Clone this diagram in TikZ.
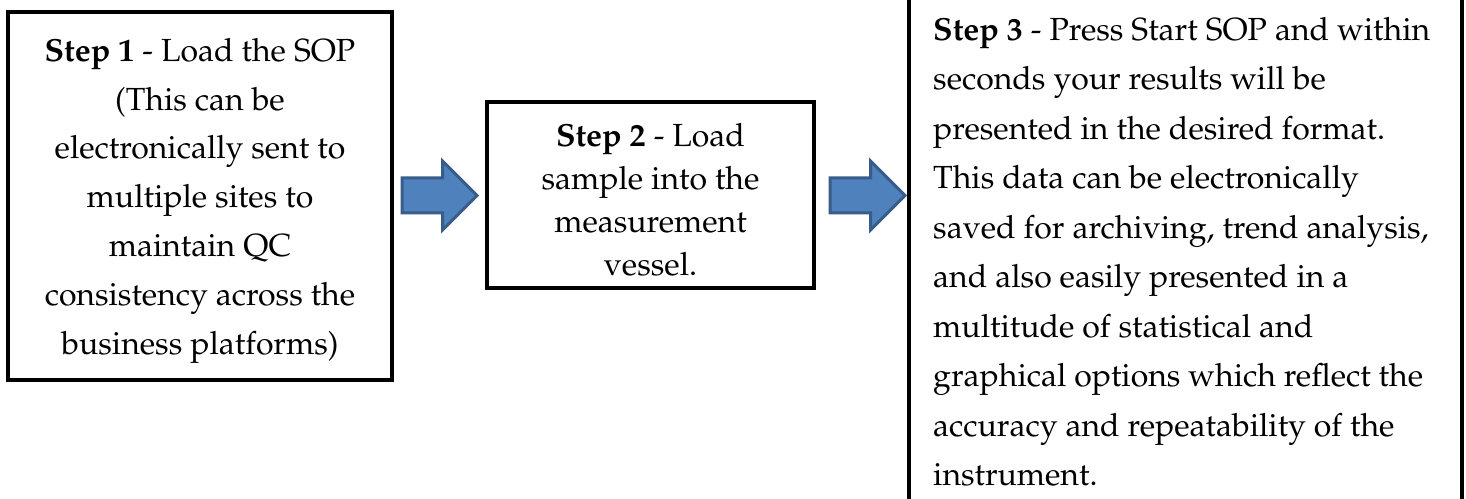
\documentclass[tikz,border=0pt]{standalone}
\usepackage[T1]{fontenc}
\renewcommand{\rmdefault}{ppl}
\usetikzlibrary{shapes.arrows}
\definecolor{arrfill}{HTML}{4F81BD}
\definecolor{arrline}{HTML}{385D8A}
\begin{document}
\begin{tikzpicture}[x=1pt,y=1pt,
  stepbox/.style={draw=black, line width=4pt, inner sep=0pt},
  steptext/.style={inner sep=0pt, font=\fontsize{32}{#1}\selectfont},
  blockarrow/.style={single arrow, draw=arrline, fill=arrfill, line width=3pt,
    single arrow head extend=17pt, inner xsep=0pt, inner ysep=16pt,
    single arrow tip angle=90, minimum height=75pt, anchor=west}]
\useasboundingbox (0,0) rectangle (1466,498);
\clip (0,0) rectangle (1466,498);
\fill[white] (0,0) rectangle (1466,498);
% boxes
\node[stepbox, minimum width=384pt, minimum height=368pt] (s1) at (200,302) {};
\node[stepbox, minimum width=327pt, minimum height=186pt] (s2) at (650.5,303) {};
\node[stepbox, minimum width=553pt, minimum height=560pt] (s3) at (1185.5,249) {};
% texts
\node[steptext=48.8, anchor=north, align=center] (t1) at (200,471)
  {\strut\textbf{Step 1} - Load the SOP\\(This can be\\electronically sent to\\multiple sites to\\maintain QC\\consistency across the\\business platforms)};
\node[steptext=43, anchor=north, align=center] (t2) at (650.5,382)
  {\strut\textbf{Step 2} - Load\\sample into the\\measurement\\vessel.};
\node[steptext=49.5, anchor=north west, align=left] (t3) at (933,492.6)
  {\strut\textbf{Step 3} - Press Start SOP and within\\seconds your results will be\\presented in the desired format.\\This data can be electronically\\saved for archiving, trend analysis,\\and also easily presented in a\\multitude of statistical and\\graphical options which reflect the\\accuracy and repeatability of the\\instrument.};
% arrows
\node[blockarrow] (a1) at (400.5,302.5) {};
\node[blockarrow] (a2) at (828.5,302.5) {};
\end{tikzpicture}
\end{document}
